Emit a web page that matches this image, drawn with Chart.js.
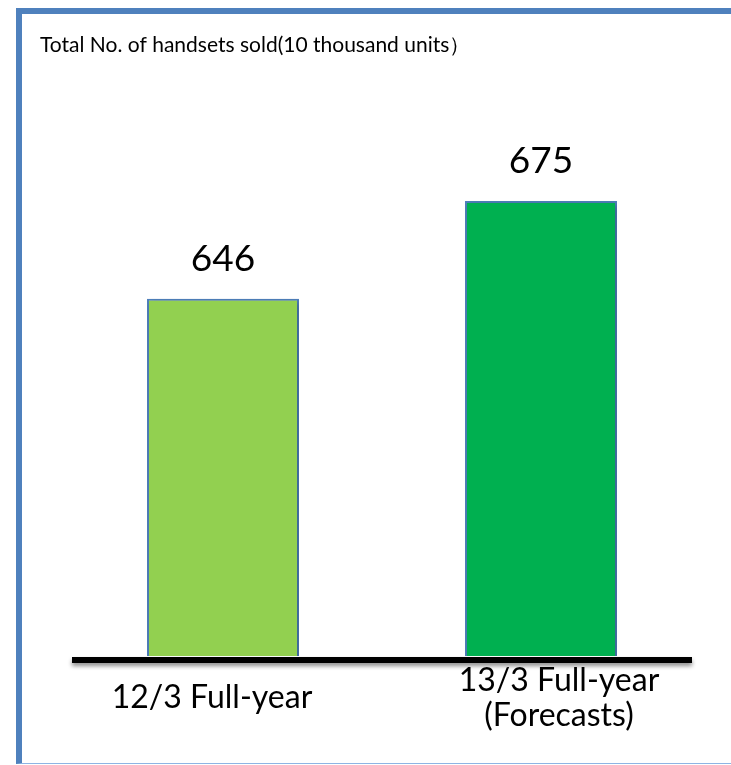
<!DOCTYPE html>
<html>
<head>
<meta charset="utf-8">
<script src="https://cdn.jsdelivr.net/npm/chart.js@4/dist/chart.umd.min.js"></script>
<style>
  html, body { margin: 0; padding: 0; background: #ffffff; overflow: hidden; }
  #wrap { position: relative; width: 731px; height: 765px; overflow: hidden; }
  #frame {
    position: absolute; left: 16px; top: 8px;
    width: 709px; height: 749px;
    border-left: 6px solid #4F81BD;
    border-top: 6px solid #4F81BD;
    border-bottom: 1px solid #8EB4E3;
    border-right: none;
  }
  #chart { position: absolute; left: 0; top: 0; }
</style>
</head>
<body>
<div id="wrap">
  <div id="frame"></div>
  <canvas id="chart" width="731" height="765"></canvas>
</div>
<script>
// Fiscal-year categories (each label may span several lines)
const categories = [
  ["12/3 Full-year"],
  ["13/3 Full-year", "(Forecasts)"]
];
// Handsets sold, in units of 10 thousand
const handsetsSold = [646, 675];
const barColors = ["#92D050", "#00B050"];
const chartTitle = "Total No. of handsets sold(10 thousand units\uFF09";

const FONT = "Lato, 'Noto Sans', sans-serif";

// Draws the title, the heavy baseline, the value labels and the category labels
const decorations = {
  id: "decorations",
  beforeDatasetsDraw(chart) {
    const ctx = chart.ctx;
    ctx.save();
    ctx.shadowColor = "rgba(0,0,0,0.28)";
    ctx.shadowBlur = 6;
    ctx.shadowOffsetX = 2;
    ctx.shadowOffsetY = 2;
  },
  afterDatasetsDraw(chart) {
    const ctx = chart.ctx;
    ctx.restore();
    const area = chart.chartArea;
    const x = chart.scales.x;

    // baseline with soft shadow
    ctx.save();
    ctx.shadowColor = "rgba(0,0,0,0.45)";
    ctx.shadowBlur = 4;
    ctx.shadowOffsetY = 3;
    ctx.strokeStyle = "#000000";
    ctx.lineWidth = 6;
    ctx.beginPath();
    ctx.moveTo(area.left + 8, area.bottom + 4);
    ctx.lineTo(area.right - 8, area.bottom + 4);
    ctx.stroke();
    ctx.restore();

    // value labels above bars
    ctx.save();
    ctx.fillStyle = "#000000";
    ctx.font = "37px " + FONT;
    ctx.textAlign = "center";
    ctx.textBaseline = "alphabetic";
    const meta = chart.getDatasetMeta(0);
    meta.data.forEach((bar, i) => {
      ctx.fillText(String(handsetsSold[i]), bar.x, bar.y - 28);
    });
    ctx.restore();

    // category labels under the baseline
    const shift = [-11, 18];
    ctx.save();
    ctx.fillStyle = "#000000";
    ctx.font = "32px " + FONT;
    ctx.textAlign = "center";
    ctx.textBaseline = "middle";
    const lineH = 35;
    const centerY = area.bottom + 42;
    categories.forEach((lines, i) => {
      const cx = x.getPixelForValue(i) + shift[i];
      const y0 = centerY - (lines.length - 1) * lineH / 2;
      lines.forEach((t, j) => ctx.fillText(t, cx, y0 + j * lineH));
    });
    ctx.restore();

    // chart title
    ctx.save();
    ctx.fillStyle = "#000000";
    ctx.font = "21px " + FONT;
    ctx.textAlign = "left";
    ctx.textBaseline = "alphabetic";
    ctx.fillText(chartTitle, 40, 52);
    ctx.restore();
  }
};

new Chart(document.getElementById("chart"), {
  type: "bar",
  data: {
    labels: categories,
    datasets: [{
      data: handsetsSold,
      backgroundColor: barColors,
      borderColor: "#4F81BD",
      borderWidth: 2,
      borderSkipped: false,
      barPercentage: 0.478,
      categoryPercentage: 1
    }]
  },
  options: {
    responsive: false,
    devicePixelRatio: 1,
    animation: false,
    layout: { padding: { left: 64, right: 31, top: 100, bottom: 109 } },
    plugins: {
      legend: { display: false },
      title: { display: false },
      tooltip: { enabled: false }
    },
    scales: {
      x: { display: false, offset: true },
      y: { display: false, min: 540, max: 705 }
    }
  },
  plugins: [decorations]
});
</script>
</body>
</html>
